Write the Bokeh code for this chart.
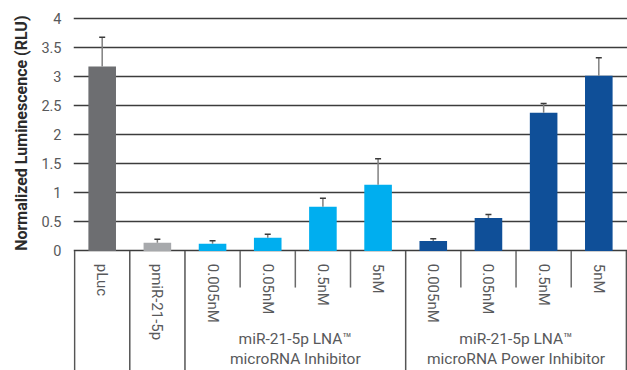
import math
from bokeh.plotting import figure
from bokeh.models import Range1d, FixedTicker, CustomJSTickFormatter, Title
from bokeh.core.properties import value
from bokeh.embed import file_html
from bokeh.resources import INLINE

# ---- data ----
categories = ["pLuc", "pmiR-21-5p", "0.005nM", "0.05nM", "0.5nM", "5nM",
              "0.005nM", "0.05nM", "0.5nM", "5nM"]
values = [3.18, 0.14, 0.125, 0.23, 0.76, 1.14, 0.17, 0.57, 2.38, 3.02]
errors = [0.50, 0.06, 0.05, 0.06, 0.15, 0.45, 0.04, 0.06, 0.16, 0.31]
bar_colors = ["#6d6e71", "#a7a9ac", "#00aeef", "#00aeef", "#00aeef", "#00aeef",
              "#0f4f98", "#0f4f98", "#0f4f98", "#0f4f98"]
groups = ["miR-21-5p LNA\u2122\nmicroRNA Inhibitor",
          "miR-21-5p LNA\u2122\nmicroRNA Power Inhibitor"]
group_members = [[2, 3, 4, 5], [6, 7, 8, 9]]
y_ticks = [0, 0.5, 1, 1.5, 2, 2.5, 3, 3.5, 4]
y_label = "Normalized Luminescence (RLU)"

FONT = "Roboto"
Y_LOW = -2.059

p = figure(width=627, height=370, output_backend="svg", toolbar_location=None,
           x_range=Range1d(-0.02, 10.02), y_range=Range1d(Y_LOW, 4.074),
           min_border_left=73, min_border_right=0, min_border_top=14, min_border_bottom=0)
p.outline_line_color = None
p.background_fill_color = "white"
p.border_fill_color = "white"
p.xaxis.visible = False
p.xgrid.visible = False

ticker = FixedTicker(ticks=y_ticks)
p.yaxis.ticker = ticker
p.yaxis.formatter = CustomJSTickFormatter(code="return tick.toString();")
p.yaxis.axis_line_color = None
p.yaxis.major_tick_line_color = None
p.yaxis.minor_tick_line_color = None
p.yaxis.major_tick_in = 0
p.yaxis.major_tick_out = 0
p.yaxis.major_label_standoff = 12
p.yaxis.major_label_text_font = FONT
p.yaxis.major_label_text_font_size = "14.5px"
p.yaxis.major_label_text_color = "#58595b"

p.ygrid.ticker = ticker
p.ygrid.grid_line_color = "#3c3c3c"
p.ygrid.grid_line_width = 1.3

# y axis title, placed along the 0..4 value span
p.add_layout(Title(text=y_label, align="right", offset=1, standoff=16,
                   text_font=FONT, text_font_style="bold",
                   text_font_size="16px", text_color="#2b2b2b"), "left")

n = len(categories)
xs = [i + 0.5 for i in range(n)]

# bars
p.vbar(x=xs, top=values, width=0.5, bottom=0, fill_color=bar_colors, line_color=None)

# error bars (upper only)
tops = [v + e for v, e in zip(values, errors)]
p.segment(x0=xs, y0=values, x1=xs, y1=tops, line_color="#808080", line_width=1.5)
p.dash(x=xs, y=tops, size=6, line_color="#3a3a3a", line_width=1.5)

# separators under the axis
group_starts = [0, 1] + [g[0] for g in group_members] + [n]
inner = [i for g in group_members for i in g[1:]]
p.segment(x0=group_starts, y0=[0] * len(group_starts), x1=group_starts,
          y1=[Y_LOW] * len(group_starts), line_color="#555555", line_width=1.5)
p.segment(x0=inner, y0=[0] * len(inner), x1=inner, y1=[-0.63] * len(inner),
          line_color="#6a6a6a", line_width=1.5)

# category labels (rotated)
p.text(x=xs, y=[-0.22] * n, text=categories, angle=-math.pi / 2,
       text_align="left", text_baseline="middle",
       text_font=value(FONT), text_font_size="15px", text_color="#58595b")

# group labels
gx = [sum(g) / len(g) + 0.5 for g in group_members]
p.text(x=gx, y=[-1.36] * len(groups), text=groups, text_align="center",
       text_baseline="top", text_font=value(FONT), text_font_size="15.5px",
       text_color="#58595b", text_line_height=1.12)

open("out.html", "w").write(file_html(p, INLINE))
